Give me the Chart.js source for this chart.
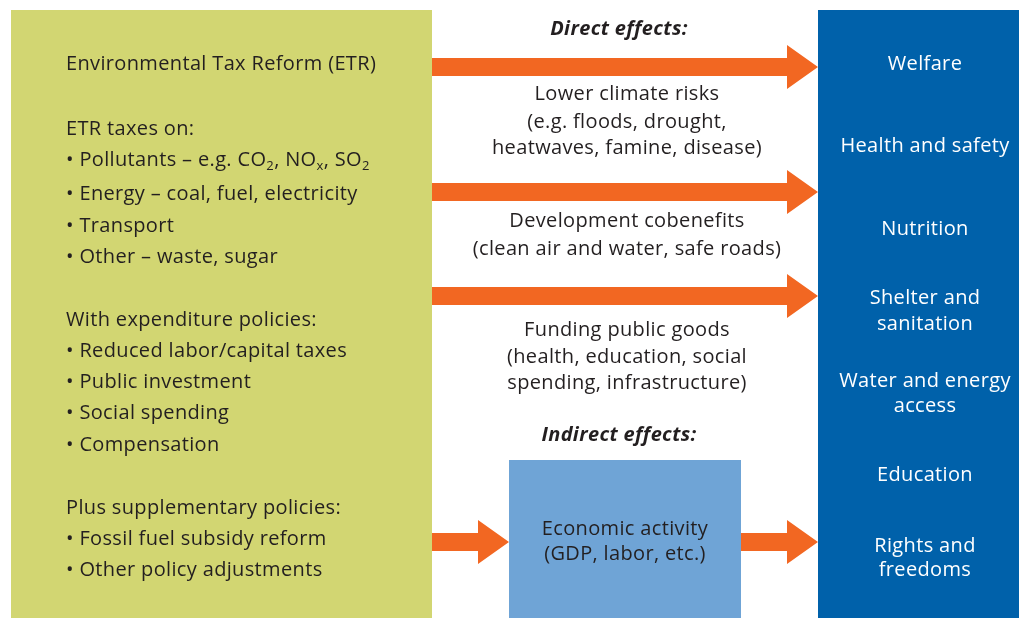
<!DOCTYPE html>
<html>
<head>
<meta charset="utf-8">
<script src="https://cdn.jsdelivr.net/npm/chart.js@4.4.0/dist/chart.umd.min.js"></script>
<style>
html,body{margin:0;padding:0;background:#fff;}
#wrap{width:1019px;height:618px;position:relative;}
</style>
</head>
<body>
<div id="wrap"><canvas id="c" width="1019" height="618"></canvas></div>
<script>
// Diagram extent (diagram units)
const extentX = [0, 1019];
const extentY = [0, 618];

// Boxes: [x0, x1, y0, y1, colourKey]
const boxes = [
  [11, 432, 10, 618, 'green'],
  [818, 1019, 10, 618, 'navy'],
  [509, 741, 460, 618, 'sky']
];

// Arrows: [xStart, xHeadStart, xTip, yCentre]
const arrows = [
  [432, 787, 818, 67],
  [432, 787, 818, 192],
  [432, 787, 818, 296],
  [432, 478, 509, 542],
  [741, 787, 818, 542]
];

// Left panel lines: [y, segments] (segment flag 1 = subscript)
const leftLines = [
  [63, [['Environmental Tax Reform (ETR)']]],
  [128, [['ETR taxes on:']]],
  [159, [['• Pollutants – e.g. CO'], ['2', 1], [', NO'], ['x', 1], [', SO'], ['2', 1]]],
  [193, [['• Energy – coal, fuel, electricity']]],
  [225, [['• Transport']]],
  [256, [['• Other – waste, sugar']]],
  [319, [['With expenditure policies:']]],
  [350, [['• Reduced labor/capital taxes']]],
  [381, [['• Public investment']]],
  [412, [['• Social spending']]],
  [444, [['• Compensation']]],
  [507, [['Plus supplementary policies:']]],
  [538, [['• Fossil fuel subsidy reform']]],
  [569, [['• Other policy adjustments']]]
];

// Middle labels: [y, text, isHeading]
const middleLines = [
  [28, 'Direct effects:', true],
  [93, 'Lower climate risks', false],
  [121, '(e.g. floods, drought,', false],
  [147, 'heatwaves, famine, disease)', false],
  [220, 'Development cobenefits', false],
  [248, '(clean air and water, safe roads)', false],
  [329, 'Funding public goods', false],
  [356, '(health, education, social', false],
  [382, 'spending, infrastructure)', false],
  [434, 'Indirect effects:', true]
];

// Economic activity box labels: [y, text]
const econLines = [
  [528, 'Economic activity'],
  [553, '(GDP, labor, etc.)']
];

// Outcomes (right panel): [y, text]
const outcomeLines = [
  [63, 'Welfare'],
  [145, 'Health and safety'],
  [228, 'Nutrition'],
  [297, 'Shelter and'],
  [323, 'sanitation'],
  [380, 'Water and energy'],
  [405, 'access'],
  [474, 'Education'],
  [545, 'Rights and'],
  [569, 'freedoms']
];

const colours = { green: '#D2D672', navy: '#0061AA', sky: '#6FA4D6', orange: '#F26722', ink: '#231F20', white: '#FFFFFF' };
const FONT = '"Open Sans", "Noto Sans", sans-serif';
const leftX = 66, middleX = 627, headingX = 619, econX = 625, outcomeX = 925;
const shaftHalf = 9, headHalf = 22;
const nudge = 1.5;

const diagramPlugin = {
  id: 'diagram',
  beforeDatasetsDraw(chart) {
    const ctx = chart.ctx, sx = chart.scales.x, sy = chart.scales.y;
    const X = v => sx.getPixelForValue(v), Y = v => sy.getPixelForValue(v) + nudge;
    const Yb = v => sy.getPixelForValue(v);
    ctx.save();
    boxes.forEach(b => {
      ctx.fillStyle = colours[b[4]];
      ctx.fillRect(X(b[0]), Yb(b[2]), X(b[1]) - X(b[0]), Yb(b[3]) - Yb(b[2]));
    });
    ctx.fillStyle = colours.orange;
    arrows.forEach(a => {
      const [x0, xh, xt, yc] = a;
      ctx.beginPath();
      ctx.moveTo(X(x0), Yb(yc - shaftHalf));
      ctx.lineTo(X(xh), Yb(yc - shaftHalf));
      ctx.lineTo(X(xh), Yb(yc - headHalf));
      ctx.lineTo(X(xt), Yb(yc));
      ctx.lineTo(X(xh), Yb(yc + headHalf));
      ctx.lineTo(X(xh), Yb(yc + shaftHalf));
      ctx.lineTo(X(x0), Yb(yc + shaftHalf));
      ctx.closePath();
      ctx.fill();
    });
    ctx.textBaseline = 'middle';
    ctx.letterSpacing = '0.35px';
    // left panel
    ctx.fillStyle = colours.ink;
    ctx.textAlign = 'left';
    leftLines.forEach(l => {
      let x = X(leftX);
      const y = Y(l[0]);
      l[1].forEach(seg => {
        if (seg[1]) {
          ctx.font = '13px ' + FONT;
          ctx.fillText(seg[0], x, y + 6);
        } else {
          ctx.font = '20px ' + FONT;
          ctx.fillText(seg[0], x, y);
        }
        x += ctx.measureText(seg[0]).width;
      });
    });
    ctx.textAlign = 'center';
    middleLines.forEach(l => {
      ctx.font = (l[2] ? 'italic bold ' : '') + '20px ' + FONT;
      ctx.fillText(l[1], X(l[2] ? headingX : middleX), Y(l[0]));
    });
    ctx.font = '20px ' + FONT;
    econLines.forEach(l => ctx.fillText(l[1], X(econX), Y(l[0])));
    ctx.fillStyle = colours.white;
    outcomeLines.forEach(l => ctx.fillText(l[1], X(outcomeX), Y(l[0])));
    ctx.restore();
  }
};

new Chart(document.getElementById('c'), {
  type: 'scatter',
  data: { datasets: [{ data: [], pointRadius: 0 }] },
  options: {
    responsive: false,
    animation: false,
    layout: { padding: 0 },
    plugins: { legend: { display: false }, tooltip: { enabled: false } },
    scales: {
      x: { type: 'linear', min: extentX[0], max: extentX[1], display: false },
      y: { type: 'linear', min: extentY[0], max: extentY[1], reverse: true, display: false }
    }
  },
  plugins: [diagramPlugin]
});
</script>
</body>
</html>
